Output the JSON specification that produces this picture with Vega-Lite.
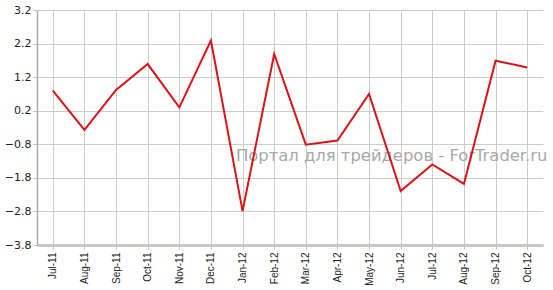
{
  "$schema": "https://vega.github.io/schema/vega-lite/v6.json",
  "width": 506,
  "height": 235,
  "autosize": {"type": "none"},
  "padding": {"left": 37, "top": 10, "right": 10, "bottom": 45},
  "background": "white",
  "config": {
    "view": {"stroke": null},
    "axis": {"gridColor": "#cccccc", "gridWidth": 1, "tickColor": "#bbbbbb", "labelColor": "#222222", "title": null}
  },
  "encoding": {
    "x": {
      "field": "month", "type": "ordinal", "sort": null,
      "scale": {"type": "point", "padding": 0.5, "domain": ["Jul-11","Aug-11","Sep-11","Oct-11","Nov-11","Dec-11","Jan-12","Feb-12","Mar-12","Apr-12","May-12","Jun-12","Jul-12","Aug-12","Sep-12","Oct-12"]},
      "axis": {
        "labelAngle": -90, "labelAlign": "right", "labelBaseline": "middle",
        "labelFont": "Liberation Sans", "labelFontSize": 10, "labelPadding": 3, "labelOverlap": false,
        "tickSize": 4, "domainColor": "#c8c8c8", "domainWidth": 3, "grid": true
      }
    },
    "y": {
      "field": "value", "type": "quantitative",
      "scale": {"domain": [-3.8, 3.2], "nice": false, "zero": false},
      "axis": {
        "values": [-3.8, -2.8, -1.8, -0.8, 0.2, 1.2, 2.2, 3.2],
        "format": ".1f", "labelOverlap": false,
        "labelFont": "DejaVu Sans", "labelFontSize": 11, "labelPadding": 2,
        "tickSize": 4, "domainColor": "#aaaaaa", "domainWidth": 1.5, "grid": true
      }
    }
  },
  "layer": [
    {
      "data": {"values": [{"month": "Jun-12", "value": -1.29, "label": "Портал для трейдеров - ForTrader.ru"}]},
      "mark": {"type": "text", "font": "DejaVu Sans", "fontSize": 16.4, "color": "#a8a8a8", "align": "center", "baseline": "alphabetic", "dx": -9},
      "encoding": {
        "text": {"field": "label"}
      }
    },
    {
      "data": {"values": [
        {"month": "Jul-11", "value": 0.80},
        {"month": "Aug-11", "value": -0.37},
        {"month": "Sep-11", "value": 0.82},
        {"month": "Oct-11", "value": 1.59},
        {"month": "Nov-11", "value": 0.30},
        {"month": "Dec-11", "value": 2.29},
        {"month": "Jan-12", "value": -2.79},
        {"month": "Feb-12", "value": 1.89},
        {"month": "Mar-12", "value": -0.81},
        {"month": "Apr-12", "value": -0.69},
        {"month": "May-12", "value": 0.70},
        {"month": "Jun-12", "value": -2.19},
        {"month": "Jul-12", "value": -1.40},
        {"month": "Aug-12", "value": -1.98},
        {"month": "Sep-12", "value": 1.69},
        {"month": "Oct-12", "value": 1.49}
      ]},
      "mark": {"type": "line", "color": "#d81418", "strokeWidth": 2}
    }
  ]
}
